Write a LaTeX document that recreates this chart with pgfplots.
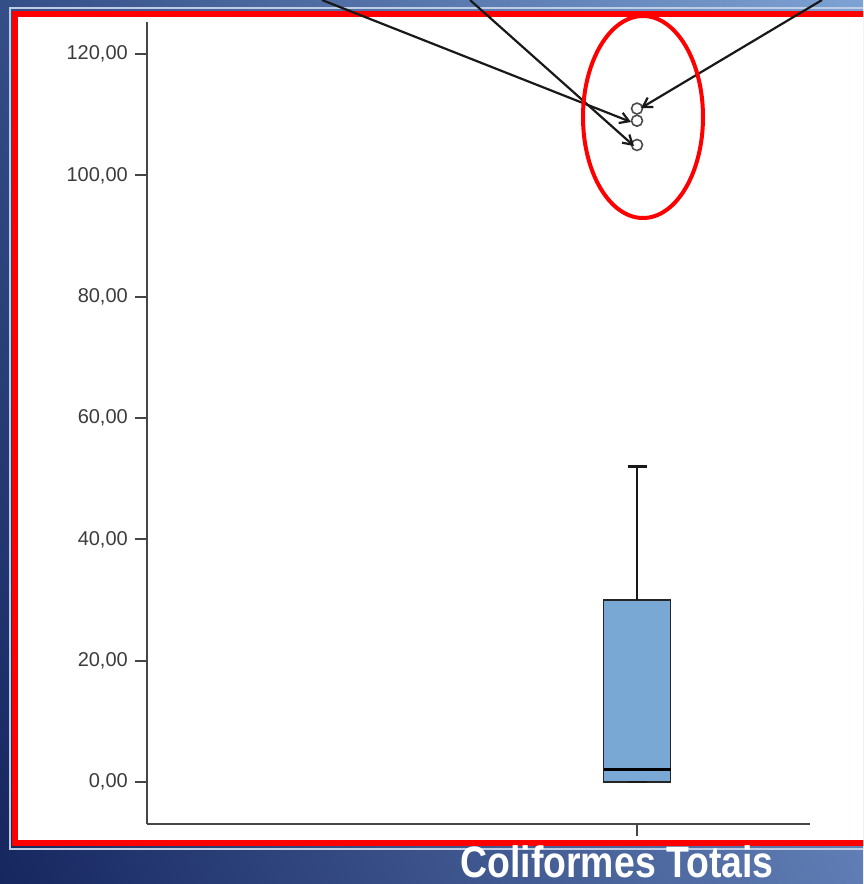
\documentclass[border=0pt]{standalone}
\usepackage{fontspec}
\setmainfont{Liberation Sans}
\usepackage{pgfplots}
\pgfplotsset{compat=1.18}
\usetikzlibrary{arrows.meta,shadings}
\definecolor{boxblue}{RGB}{122,168,213}
\definecolor{bgUL}{RGB}{52,78,135}
\definecolor{bgUR}{RGB}{125,162,212}
\definecolor{bgLL}{RGB}{22,38,95}
\definecolor{bgLR}{RGB}{95,125,180}
\definecolor{rim}{RGB}{190,205,228}
\definecolor{ticktext}{RGB}{60,60,60}
\definecolor{axgray}{RGB}{70,70,70}
\begin{document}
\begin{tikzpicture}
\useasboundingbox (0,0) rectangle (863pt,-884pt);
\clip (0,0) rectangle (863pt,-884pt);
\shade[upper left=bgUL, upper right=bgUR, lower left=bgLL, lower right=bgLR] (0,0) rectangle (863pt,-884pt);
\draw[rim, line width=2pt] (10pt,-8pt) rectangle (885pt,-849pt);
\filldraw[fill=white, draw=red, line width=6pt] (14.5pt,-13.5pt) rectangle (885pt,-842.5pt);
\begin{axis}[
  at={(147pt,-824pt)}, anchor=south west,
  scale only axis, width=663pt, height=802pt,
  xmin=0, xmax=663, ymin=-6.92, ymax=125.27,
  axis x line*=bottom, axis y line*=left,
  ytick={0,20,...,120}, xtick={490}, xticklabels={},
  tick align=outside, major tick length=12pt,
  axis line style={line width=1.8pt, color=axgray},
  tick style={line width=1.8pt, color=axgray},
  yticklabel style={font=\fontsize{20}{24}\selectfont, text=ticktext, inner sep=2pt, xshift=-5pt,
    /pgf/number format/fixed, /pgf/number format/fixed zerofill,
    /pgf/number format/precision=2, /pgf/number format/use comma,
    /pgf/number format/assume math mode=true},
  clip=false,
]
% box (lower quartile 0, upper quartile 30)
\addplot[fill=boxblue, draw=black!85, line width=1.8pt]
  coordinates {(456.5,0) (523.5,0) (523.5,30) (456.5,30)} -- cycle;
% median
\addplot[black, line width=3pt] coordinates {(456.5,2) (523.5,2)};
% upper whisker
\addplot[black!90, line width=2.6pt] coordinates {(490,30) (490,52)};
\addplot[black!90, line width=2.8pt] coordinates {(480.5,52) (499.5,52)};
% lower whisker cap at 0
\addplot[black!90, line width=2.4pt] coordinates {(480.5,0) (499.5,0)};
% outliers
\addplot[only marks, mark=*, mark size=5.5pt, mark options={draw=black!70, fill=white, line width=1.6pt}]
  coordinates {(490,111) (490,109) (490,105)};
\end{axis}
\draw[line width=2.2pt, black!90, -{Straight Barb[length=9pt,width=11pt]}] (322pt,0pt) -- (631pt,-122pt);
\draw[line width=2.2pt, black!90, -{Straight Barb[length=9pt,width=11pt]}] (470pt,0pt) -- (634pt,-146pt);
\draw[line width=2.2pt, black!90, -{Straight Barb[length=9pt,width=11pt]}] (822pt,0pt) -- (641pt,-108pt);
\draw[red, line width=4pt] (643pt,-117pt) ellipse [x radius=60pt, y radius=101pt];
\node[anchor=base, inner sep=0pt, text=white, font=\bfseries\fontsize{44}{48}\selectfont, xscale=0.85] at (617pt,-877pt) {Coliformes Totais};
\end{tikzpicture}
\end{document}
